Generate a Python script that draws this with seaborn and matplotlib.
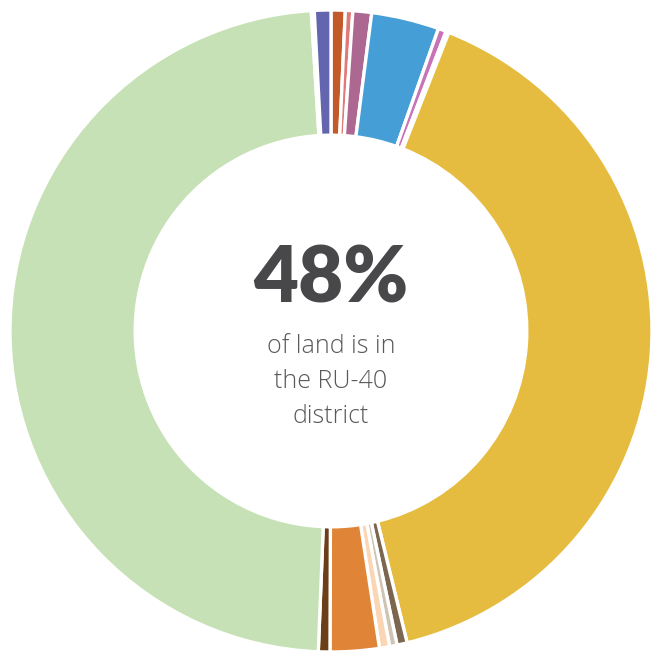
import matplotlib
matplotlib.use("Agg")
import matplotlib.pyplot as plt
import seaborn as sns

# Share of land by zoning district, clockwise from 12 o'clock (percent)
districts = [
    "C-1", "C-2", "C-3", "RM", "R-MH", "gap-a", "RU-10",
    "I-1", "I-2", "O-1", "R-20", "PUD", "RU-40", "gap-b", "R-10",
]
shares = [
    0.71, 0.375, 0.94, 3.40, 0.40, 0.15, 40.13,
    0.51, 0.375, 0.51, 2.46, 0.58, 48.30, 0.15, 0.83,
]
colors = [
    "#c25a2a", "#e07a78", "#ad6891", "#459fd6", "#c872b8", "#ffffff", "#e6bc40",
    "#7c6650", "#cfc4b4", "#fbd6b5", "#e08537", "#6c3e18", "#c5e1b5", "#ffffff", "#6365ae",
]
headline_district = "RU-40"

sns.set_theme(style="white")
plt.rcParams["font.family"] = ["Lato", "DejaVu Sans"]

W, H = 671, 651
fig = plt.figure(figsize=(W / 100, H / 100), dpi=100)
cx, cy, R = 331.0, 331.0, 321.0
ax = fig.add_axes([(cx - R) / W, (H - cy - R) / H, 2 * R / W, 2 * R / H])

ax.pie(
    shares,
    colors=colors,
    startangle=90,
    counterclock=False,
    radius=1.0,
    wedgeprops=dict(width=0.39, edgecolor="white", linewidth=2.4),
)
ax.set_xlim(-1, 1)
ax.set_ylim(-1, 1)
ax.set_aspect("auto")
ax.axis("off")

total = sum(shares)
pct = round(shares[districts.index(headline_district)] / total * 100)

ax.text(0, 0.16, f"{pct}%", ha="center", va="center", fontsize=56,
        fontweight="heavy", color="#48484a")
ax.text(0, -0.008, f"of land is in\nthe {headline_district}\ndistrict",
        ha="center", va="top", fontsize=18, fontweight="light",
        color="#595959", linespacing=1.53, family=["Open Sans", "DejaVu Sans"])

fig.savefig("out.png", dpi=100, facecolor="white")
